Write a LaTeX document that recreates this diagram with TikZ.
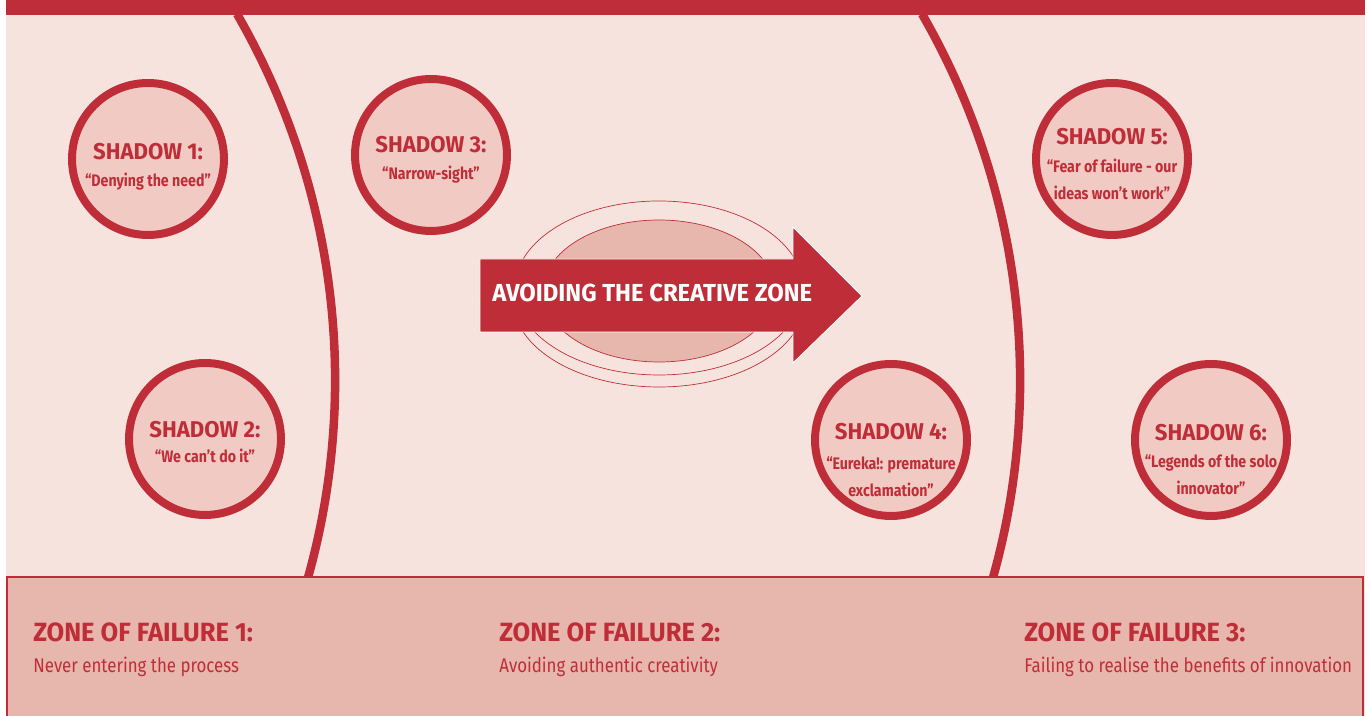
\documentclass[tikz,border=0pt]{standalone}
\usepackage{fontspec}
\setmainfont{Fira Sans}[FakeStretch=0.85,BoldFeatures={FakeStretch=0.97}]
\newfontfamily\narrowfam{Fira Sans}[FakeStretch=0.85]
\usetikzlibrary{positioning}
\definecolor{zred}{HTML}{BF2E38}
\definecolor{zbg}{HTML}{F6E3DD}
\definecolor{zcirc}{HTML}{F1CBC3}
\definecolor{zbox}{HTML}{E7B6AC}
\begin{document}
\begin{tikzpicture}[x=0.02cm,y=0.02cm,
    shadow/.style={circle,draw=zred,fill=zcirc,line width=0.16cm,minimum size=3.04cm,inner sep=0pt},
    sttl/.style={anchor=base,inner sep=0pt,text=zred,font=\bfseries\fontsize{13}{15}\selectfont},
    ssub/.style={anchor=base,inner sep=0pt,text=zred,font=\narrowfam\bfseries\fontsize{9.5}{11}\selectfont},
    zttl/.style={anchor=base west,inner sep=0pt,text=zred,font=\bfseries\fontsize{15}{17}\selectfont},
    zsub/.style={anchor=base west,inner sep=0pt,text=zred,font=\fontsize{11.3}{13}\selectfont},
    arc/.style={draw=zred,line width=0.17cm}]
\useasboundingbox (0,0) rectangle (1369,716);
\fill[zbg] (6,0) rectangle (1365,716);
\draw[arc] (237,702) arc[start angle=30,end angle=-15.6,radius=732.5];
\draw[arc] (922,702) arc[start angle=30,end angle=-15.6,radius=732.5];
\fill[zred] (6,701) rectangle (1365,720);
\draw[zred,line width=0.05cm,fill=zbox] (7,-5) rectangle (1363,139);

\draw[zred,line width=0.4pt] (659,416) ellipse [x radius=146,y radius=87];
\draw[zred,line width=0.4pt,fill=zbg] (659,428) ellipse [x radius=144,y radius=87];
\draw[zred,line width=0.4pt,fill=zbox] (659,425) ellipse [x radius=116,y radius=71];
\fill[zred,draw=white,line width=0.5pt] (480,384) -- (480,457) -- (793,457) -- (793,489)
    -- (862,420) -- (793,353) -- (793,384) -- cycle;
\node[anchor=base west,inner sep=0pt,text=white,font=\bfseries\fontsize{14}{16}\selectfont]
    (avoid) at (492,414) {AVOIDING THE CREATIVE ZONE};

\node[shadow] (s1) at (148,557) {};
\node[sttl] (s1a) at (148,556) {SHADOW 1:};
\node[ssub] (s1b) at (148,529) {“Denying the need”};
\node[shadow] (s2) at (205,277) {};
\node[sttl] (s2a) at (205,278) {SHADOW 2:};
\node[ssub] (s2b) at (205,253) {“We can’t do it”};
\node[shadow] (s3) at (431,561) {};
\node[sttl] (s3a) at (431,563) {SHADOW 3:};
\node[ssub] (s3b) at (431,536) {“Narrow-sight”};
\node[shadow] (s4) at (891,276) {};
\node[sttl] (s4a) at (891,276) {SHADOW 4:};
\node[ssub] (s4b) at (891,246) {“Eureka!: premature};
\node[ssub] (s4c) at (891,219) {exclamation”};
\node[shadow] (s5) at (1112,557) {};
\node[sttl] (s5a) at (1112,571) {SHADOW 5:};
\node[ssub] (s5b) at (1112,543) {“Fear of failure - our};
\node[ssub] (s5c) at (1112,516) {ideas won’t work”};
\node[shadow] (s6) at (1211,276) {};
\node[sttl] (s6a) at (1211,275) {SHADOW 6:};
\node[ssub] (s6b) at (1211,248) {“Legends of the solo};
\node[ssub] (s6c) at (1211,221) {innovator”};

\node[zttl] (z1) at (33,74) {ZONE OF FAILURE 1:};
\node[zsub] (z1b) at (33,43) {Never entering the process};
\node[zttl] (z2) at (499,74) {ZONE OF FAILURE 2:};
\node[zsub] (z2b) at (499,43) {Avoiding authentic creativity};
\node[zttl] (z3) at (1024,74) {ZONE OF FAILURE 3:};
\node[zsub] (z3b) at (1024,43) {Failing to realise the benefits of innovation};
\end{tikzpicture}
\end{document}
